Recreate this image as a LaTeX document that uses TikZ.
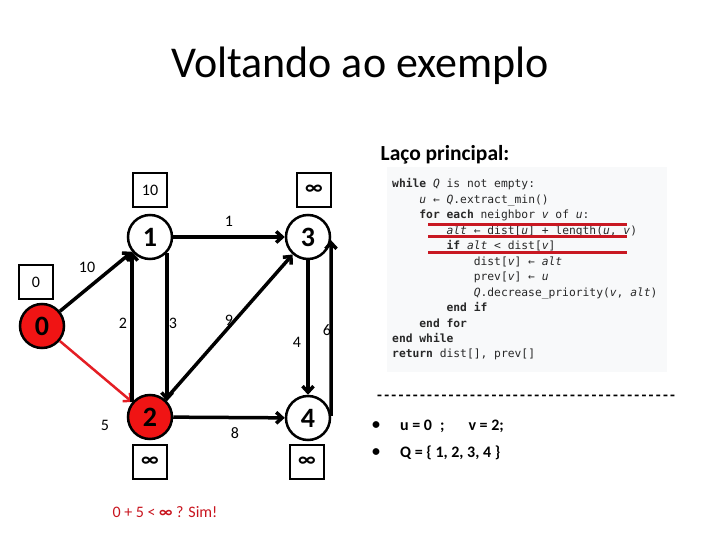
\documentclass[tikz,border=0pt]{standalone}
\usepackage{fontspec}
\setmainfont{Carlito}
\newfontfamily\codefont{DejaVu Sans Mono}
\definecolor{hot}{RGB}{240, 20, 20}
\definecolor{hotline}{RGB}{228, 30, 36}
\definecolor{underred}{RGB}{200, 24, 34}
\definecolor{codebg}{RGB}{248, 249, 250}
\definecolor{codetxt}{RGB}{40, 40, 40}
\definecolor{txtred}{RGB}{200, 20, 30}
\usetikzlibrary{arrows.meta, positioning}
\newcommand\kw[1]{\textbf{#1}}
\newcommand\cv[1]{\textit{#1}}

\begin{document}
\begin{tikzpicture}[x=1pt, y=-1pt,
        every node/.style={font=\fontsize{16}{19}\selectfont},
        vert/.style={circle, draw=black, line width=2.5pt, fill=white, minimum size=44pt, inner sep=0pt, font=\fontsize{28}{30}\selectfont\bfseries},
        seen/.style={vert, fill=hot},
        dbox/.style={rectangle, draw=black, line width=1.8pt, minimum size=34pt, inner sep=0pt},
        infbox/.style={dbox, font=\fontsize{21}{21}\selectfont\bfseries},
        wgt/.style={inner sep=1pt},
        arr/.style={-{Straight Barb[length=6pt, width=11pt]}, line width=3.5pt},
        redarr/.style={arr, hotline, line width=2.5pt},
        code/.style={anchor=base west, inner sep=0pt, text=codetxt, font=\codefont\fontsize{11.3}{13}\selectfont},
        bul/.style={anchor=west, inner sep=0pt, font=\fontsize{16}{19}\selectfont\bfseries},
        uline/.style={underred, line width=3pt}
    ]
        \useasboundingbox (0,0) rectangle (720,540);

        % Title
        \node[font=\fontsize{44}{50}\selectfont] (title) at (360, 66) {Voltando ao exemplo};

        % Vertices
        \node[seen] (v0) at ( 42, 326) {0};
        \node[vert] (v1) at (150, 237) {1};
        \node[seen] (v2) at (150, 417) {2};
        \node[vert] (v3) at (308, 237) {3};
        \node[vert] (v4) at (308, 418) {4};

        % Distance boxes
        \node[dbox] (d0) at ( 36, 282) {0};
        \node[dbox] (d1) at (150, 190) {10};
        \node[infbox] (d3) at (314, 190) {∞};
        \node[infbox] (d2) at (150, 462) {∞};
        \node[infbox] (d4) at (307, 462) {∞};

        % Edges
        \draw[arr] (v0) -- (v1);
        \draw[redarr] (v0) -- (v2);
        \draw[arr] (v1) -- (v3);
        \draw[arr] (v2.140) -- (v1.220);
        \draw[arr] (v1.-43) -- (v2.43);
        \draw[arr] (v2) -- (v3);
        \draw[arr] (v2) -- (v4);
        \draw[arr] (v3.south) -- (v4.north);
        \draw[arr] (v4.5) -- (v3.-8);

        % Weights
        \node[wgt] (w01) at ( 87, 267) {10};
        \node[wgt] (w02) at (105, 425) {5};
        \node[wgt] (w13) at (229, 221) {1};
        \node[wgt] (w21) at (123, 323) {2};
        \node[wgt] (w12) at (173, 323) {3};
        \node[wgt] (w23) at (229, 320) {9};
        \node[wgt] (w24) at (235, 433) {8};
        \node[wgt] (w34) at (297, 342) {4};
        \node[wgt] (w43) at (327, 330) {6};

        \node[text=txtred] (test) at (165, 512) {0 + 5 < {\bfseries ∞} ? Sim!};

        % Main loop
        \node[font=\fontsize{21.5}{25}\selectfont\bfseries] (looptitle) at (445, 155) {Laço principal:};
        \node[fill=codebg, minimum width=280pt, minimum height=205pt, inner sep=0pt] (codebox) at (527, 269.5) {};
        \foreach \ind/\txt [count=\i from 0] in {
            0/{\kw{while} \cv{Q} is not empty:},
            1/{\cv{u} ← \cv{Q}.extract\_min()},
            1/{\kw{for each} neighbor \cv{v} of \cv{u}:},
            2/{\cv{alt} ← dist[\cv{u}] + length(\cv{u}, \cv{v})},
            2/{\kw{if} \cv{alt} < dist[\cv{v}]},
            3/{dist[\cv{v}] ← \cv{alt}},
            3/{prev[\cv{v}] ← \cv{u}},
            3/{\cv{Q}.decrease\_priority(\cv{v}, \cv{alt})},
            2/{\kw{end if}},
            1/{\kw{end for}},
            0/{\kw{end while}},
            0/{\kw{return} dist[], prev[]}}
            \node[code] (line\i) at (392 + 27.2*\ind, 188 + 15.45*\i) {\txt};

        % Red underlines
        \draw[uline] (428, 225) -- (627, 225);
        \draw[uline] (428, 236) -- (627, 236);
        \draw[uline] (428, 252) -- (627, 252);

        % Separator and state
        \node[anchor=west, inner sep=0pt, font=\fontsize{16}{19}\selectfont\bfseries] (sep) at (377, 398) {\foreach \k in {1,...,42}{-\kern2.25pt}};
        \node[bul] (b1) at (372, 426) {•};
        \node[bul] (s1) at (400, 426) {u = 0\enspace;\quad\enspace v = 2;};
        \node[bul] (b2) at (372, 453) {•};
        \node[bul] (s2) at (400, 453) {Q = \{ 1, 2, 3, 4 \}};
    \end{tikzpicture}
\end{document}
